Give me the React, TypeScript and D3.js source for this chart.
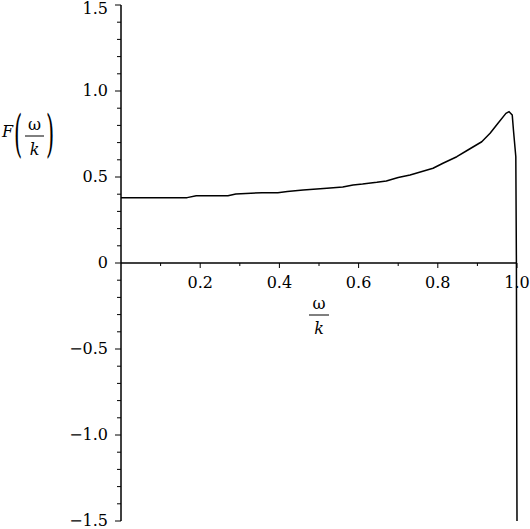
import React from 'react';
import * as d3 from 'd3';

// omega/k on the x axis, F(omega/k) on the y axis
const ratio = [
  0, 0.167, 0.19, 0.27, 0.29, 0.356, 0.396, 0.42, 0.46, 0.52, 0.56, 0.586, 0.61, 0.646, 0.67,
  0.7, 0.73, 0.788, 0.813, 0.848, 0.876, 0.911, 0.932, 0.952, 0.972, 0.98, 0.988, 0.991, 0.997,
  0.9985, 1.0,
];
const fValues = [
  0.38, 0.38, 0.391, 0.391, 0.401, 0.409, 0.409, 0.415, 0.424, 0.434, 0.442, 0.454, 0.459, 0.469,
  0.477, 0.497, 0.512, 0.551, 0.58, 0.618, 0.657, 0.705, 0.754, 0.812, 0.87, 0.88, 0.86, 0.773,
  0.618, 0.0, -1.5,
];
const xMajor = [0.2, 0.4, 0.6, 0.8, 1.0];
const xMinor = [0.1, 0.3, 0.5, 0.7, 0.9];
const yMajor = [-1.5, -1.0, -0.5, 0, 0.5, 1.0, 1.5];
const yMinor = d3.range(-15, 16).map((d) => d / 10).filter((d) => Math.round(d * 10) % 5 !== 0);

const W = 530;
const H = 529;
const font = 'DejaVu Serif';

export default function App() {
  const x = d3.scaleLinear().domain([0, 1]).range([121, 517]);
  const y = d3.scaleLinear().domain([-1.5, 1.5]).range([521, 5]);

  const line = d3
    .line<number>()
    .x((_, i) => x(ratio[i]))
    .y((d) => y(d));

  const fmt = (d: number) => (d === 0 ? '0' : d3.format('.1f')(d));
  const x0 = x(0);
  const y0 = y(0);

  return (
    <svg
      width={W}
      height={H}
      style={{ position: 'absolute', left: 0, top: 0, background: '#fff' }}
      fontFamily={font}
    >
      {/* axes */}
      <line x1={x0} x2={x(1)} y1={y0} y2={y0} stroke="#000" strokeWidth={1.5} />
      <line x1={x0} x2={x0} y1={y(1.5)} y2={y(-1.5)} stroke="#000" strokeWidth={1.5} />

      {xMinor.map((d) => (
        <line key={'xm' + d} x1={x(d)} x2={x(d)} y1={y0} y2={y0 + 3} stroke="#000" strokeWidth={1} />
      ))}
      {xMajor.map((d) => (
        <g key={'xM' + d}>
          <line x1={x(d)} x2={x(d)} y1={y0} y2={y0 + 5} stroke="#000" strokeWidth={1} />
          <text x={x(d)} y={y0 + 25} textAnchor="middle" fontSize={16}>
            {fmt(d)}
          </text>
        </g>
      ))}

      {yMinor.map((d) => (
        <line key={'ym' + d} x1={x0 - 4} x2={x0} y1={y(d)} y2={y(d)} stroke="#000" strokeWidth={1} />
      ))}
      {yMajor.map((d) => (
        <g key={'yM' + d}>
          <line x1={x0 - 6} x2={x0} y1={y(d)} y2={y(d)} stroke="#000" strokeWidth={1} />
          <text
            x={x0 - 13}
            y={Math.max(y(d), 9)}
            textAnchor="end"
            dominantBaseline="middle"
            fontSize={16}
          >
            {fmt(d)}
          </text>
        </g>
      ))}

      {/* curve */}
      <path d={line(fValues) || ''} fill="none" stroke="#000" strokeWidth={1.5} strokeLinejoin="round" />

      {/* x label: omega / k */}
      <text x={319} y={309} textAnchor="middle" fontSize={16}>
        ω
      </text>
      <line x1={309} x2={329} y1={315} y2={315} stroke="#000" strokeWidth={1} />
      <text x={319} y={334} textAnchor="middle" fontSize={16} fontStyle="italic">
        k
      </text>

      {/* y label: F(omega / k) */}
      <text x={2} y={137} fontSize={16} fontStyle="italic">
        F
      </text>
      <text transform="translate(14,151) scale(0.42,1)" fontSize={50}>
        (
      </text>
      <line x1={25} x2={44} y1={136} y2={136} stroke="#000" strokeWidth={1} />
      <text x={34.5} y={130} textAnchor="middle" fontSize={16}>
        ω
      </text>
      <text x={34.5} y={155} textAnchor="middle" fontSize={16} fontStyle="italic">
        k
      </text>
      <text transform="translate(46,151) scale(0.42,1)" fontSize={50}>
        )
      </text>
    </svg>
  );
}
